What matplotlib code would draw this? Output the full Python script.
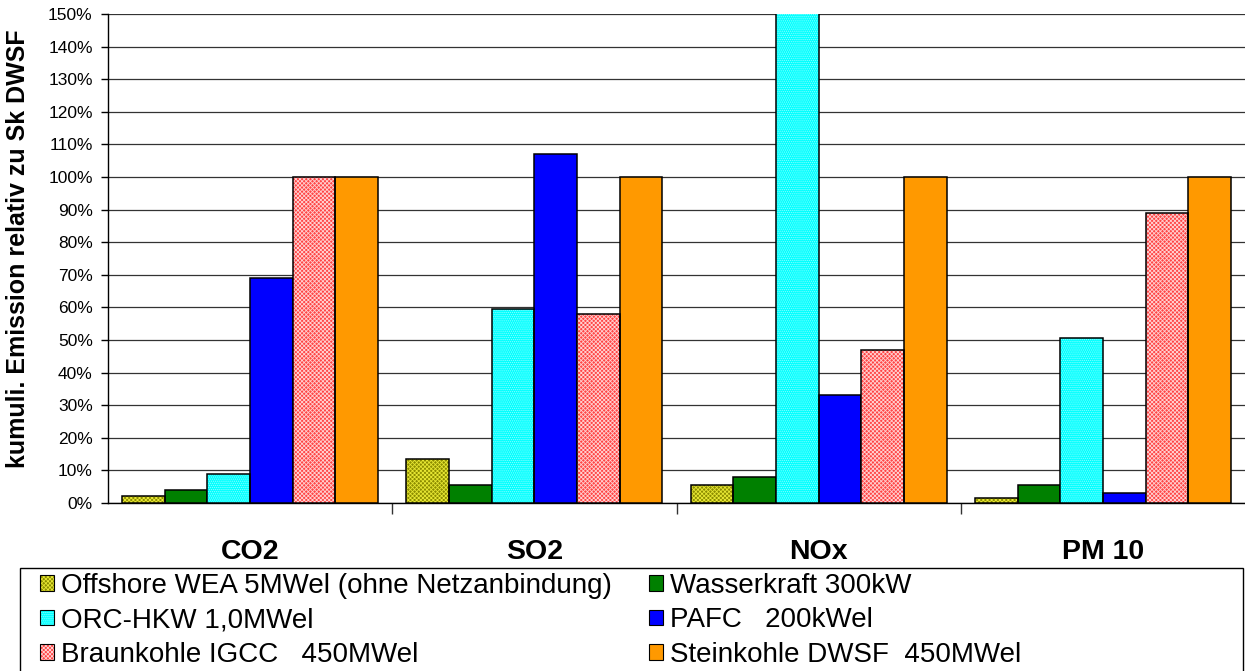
import matplotlib.pyplot as plt
import numpy as np
from matplotlib.patches import Patch, Rectangle
from matplotlib.legend_handler import HandlerTuple

plt.rcParams['font.family'] = ['Liberation Sans', 'DejaVu Sans']
plt.rcParams['hatch.linewidth'] = 0.6

# ── data ────────────────────────────────────────────────────────────────
categories = ["CO2", "SO2", "NOx", "PM 10"]
series = [
    "Offshore WEA 5MWel (ohne Netzanbindung)",
    "Wasserkraft 300kW",
    "ORC-HKW 1,0MWel",
    "PAFC   200kWel",
    "Braunkohle IGCC   450MWel",
    "Steinkohle DWSF  450MWel",
]
offshore    = [2.0, 13.5, 5.5, 1.5]
wasserkraft = [4.0, 5.5, 8.0, 5.5]
orc_hkw     = [8.8, 59.5, 160.0, 50.5]   # NOx bar runs off the top of the axis
pafc        = [69.0, 107.0, 33.0, 3.2]
braunkohle  = [100.0, 58.0, 47.0, 89.0]
steinkohle  = [100.0, 100.0, 100.0, 100.0]
values = [offshore, wasserkraft, orc_hkw, pafc, braunkohle, steinkohle]

# ── styles: (face, hatch, hatch colour) ─────────────────────────────────
styles = [
    ("#8c8c00", "xxxxxxxx", "#e6e633"),
    ("#008000", None, None),
    ("#00ffff", "........", "#8cffff"),
    ("#0000ff", None, None),
    ("#ff4444", "xxxxxxxx", "#ffd0d0"),
    ("#ff9900", None, None),
]

W, H = 1245, 671
fig = plt.figure(figsize=(W / 100, H / 100), dpi=100)
ax = fig.add_axes([108 / W, 1 - 503 / H, (W - 108) / W, (503 - 14) / H])

x = np.arange(len(categories))
bw = 0.15
handles = []
for i, (vals, (fc, hatch, hc)) in enumerate(zip(values, styles)):
    pos = x - 0.45 + bw * (i + 0.5)
    if hatch:
        ax.bar(pos, vals, bw, color=fc, hatch=hatch, edgecolor=hc,
               linewidth=0, zorder=3)
        ax.bar(pos, vals, bw, fill=False, edgecolor="black",
               linewidth=1.1, zorder=4)
        h = (Patch(facecolor=fc, hatch=hatch, edgecolor=hc, linewidth=0),
             Patch(fill=False, edgecolor="black", linewidth=0.8))
    else:
        ax.bar(pos, vals, bw, color=fc, edgecolor="black",
               linewidth=1.1, zorder=3)
        h = Patch(facecolor=fc, edgecolor="black", linewidth=0.8)
    handles.append(h)

ax.set_xlim(-0.5, 3.5)
ax.set_ylim(0, 150)
ax.set_yticks(np.arange(0, 151, 10))
ax.set_yticklabels([f"{v}%" for v in range(0, 151, 10)], fontsize=12.5)
ax.yaxis.grid(True, color="#333333", linewidth=0.9)
ax.set_axisbelow(True)

ax.set_xticks(x)
ax.set_xticklabels(categories, fontsize=20.5, fontweight="bold")
ax.tick_params(axis="x", which="major", length=0, pad=26)
ax.set_xticks([0.5, 1.5, 2.5], minor=True)
ax.tick_params(axis="x", which="minor", length=8, width=1, color="#333333")
ax.tick_params(axis="y", length=5, width=1, pad=6)

for s in ("top", "right"):
    ax.spines[s].set_visible(False)
ax.spines["left"].set_linewidth(1.0)
ax.spines["bottom"].set_linewidth(1.0)

fig.text(18 / W, 1 - 249 / H, "kumuli. Emission relativ zu Sk DWSF",
         rotation=90, fontsize=18, fontweight="bold", ha="center", va="center")

# legend box (runs off the bottom of the image)
fig.patches.append(Rectangle((20 / W, -0.05), (1243 - 20) / W, 0.05 + 1 - 568 / H,
                             transform=fig.transFigure, fill=False,
                             edgecolor="black", linewidth=1.0))

order = [0, 2, 4, 1, 3, 5]
fig.legend([handles[k] for k in order], [series[k] for k in order],
           handler_map={tuple: HandlerTuple(ndivide=1, pad=0)},
           ncol=2, loc="upper left", bbox_to_anchor=(40 / W, 1 - 573 / H),
           frameon=False, fontsize=20, handlelength=0.5, handleheight=0.5,
           handletextpad=0.25, columnspacing=1.35, labelspacing=0.3,
           borderpad=0, borderaxespad=0)

fig.savefig("out.png", dpi=100)
